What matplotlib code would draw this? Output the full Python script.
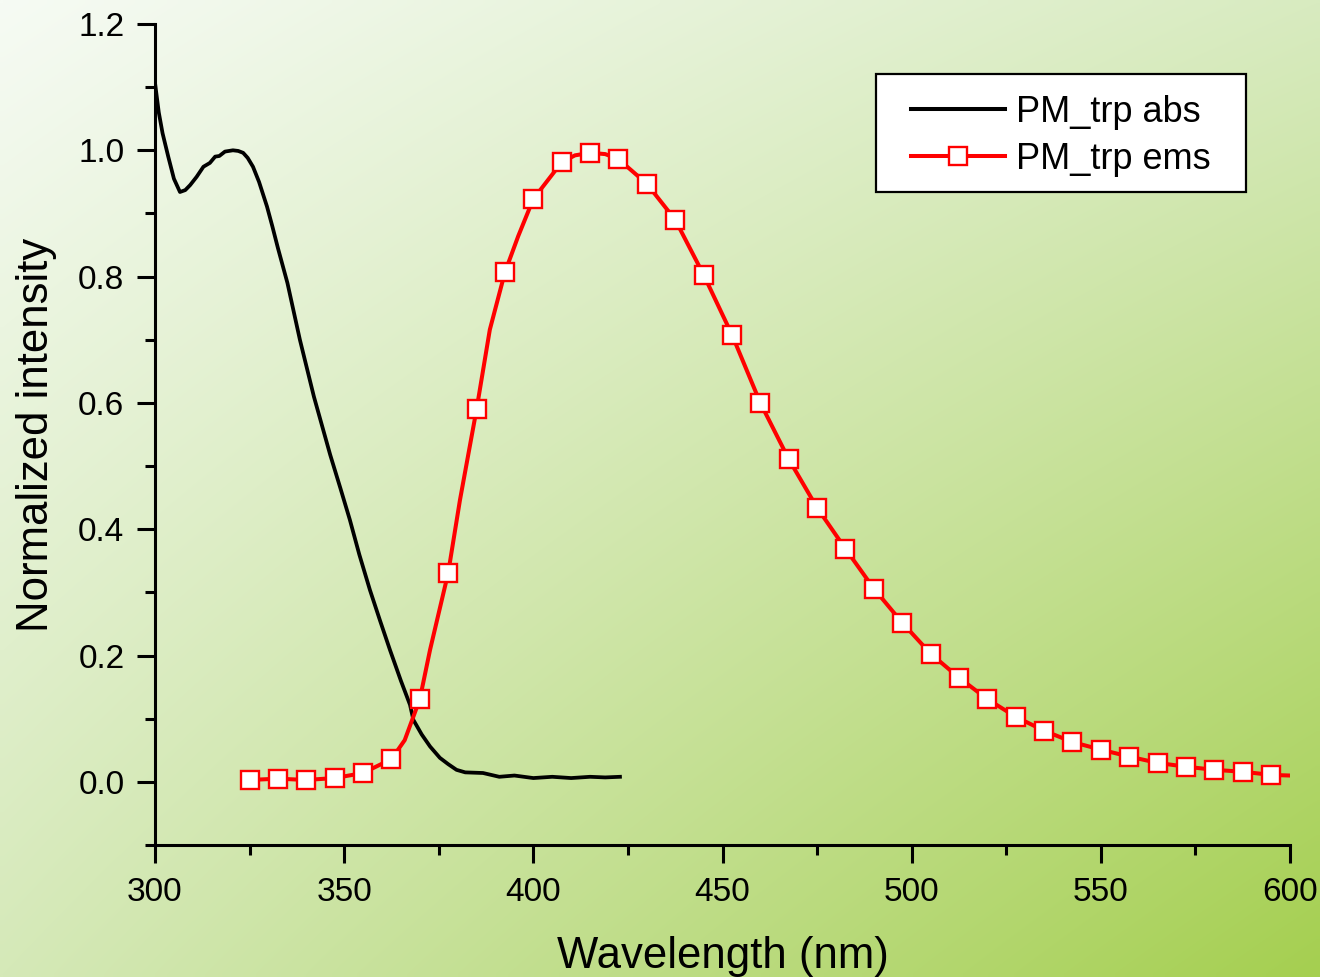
import numpy as np
import matplotlib
matplotlib.use("Agg")
import matplotlib.pyplot as plt
from matplotlib.lines import Line2D
from matplotlib.patches import Rectangle
from matplotlib.ticker import MultipleLocator

plt.rcParams['font.family'] = ['Liberation Sans', 'DejaVu Sans']

# ---- data ----
abs_wl = [300, 301, 302, 303.5, 305, 306.6, 308, 309.3, 311, 312.8, 314.5, 315.9, 317, 318.5,
          320.6, 322, 323.3, 324.5, 325.9, 327.5, 329.6, 331, 332.5, 335, 338.3, 342, 346.3,
          349, 351.5, 354, 356.8, 359.5, 362.1, 365, 367.4, 368.3, 370.5, 372.7, 375.3, 377.5,
          379.7, 382, 386.7, 391, 395, 400, 405, 410, 415, 419, 422.9]
abs_val = [1.107, 1.060, 1.027, 0.990, 0.955, 0.934, 0.937, 0.945, 0.958, 0.974, 0.980, 0.990,
           0.991, 0.998, 1.000, 0.999, 0.996, 0.988, 0.974, 0.950, 0.911, 0.880, 0.845, 0.790,
           0.700, 0.610, 0.518, 0.465, 0.415, 0.360, 0.304, 0.255, 0.209, 0.160, 0.122, 0.098,
           0.075, 0.056, 0.038, 0.028, 0.019, 0.015, 0.014, 0.008, 0.010, 0.006, 0.008, 0.006,
           0.008, 0.007, 0.008]

ems_mark_wl = [325, 332.5, 340, 347.5, 355, 362.5, 370, 377.5, 385, 392.5, 400, 407.5, 415,
               422.5, 430, 437.5, 445, 452.5, 460, 467.5, 475, 482.5, 490, 497.5, 505, 512.5,
               520, 527.5, 535, 542.5, 550, 557.5, 565, 572.5, 580, 587.5, 595]
ems_mark_val = [0.003, 0.005, 0.003, 0.006, 0.014, 0.036, 0.131, 0.331, 0.590, 0.807, 0.923,
                0.981, 0.996, 0.986, 0.947, 0.890, 0.803, 0.708, 0.600, 0.511, 0.434, 0.369,
                0.306, 0.252, 0.203, 0.165, 0.131, 0.103, 0.081, 0.063, 0.051, 0.040, 0.030,
                0.024, 0.019, 0.016, 0.011]
# extra points on the line between markers
ems_extra_wl = [366, 372.7, 380.6, 388.5, 396, 411, 419, 600]
ems_extra_val = [0.066, 0.209, 0.446, 0.716, 0.864, 0.992, 0.994, 0.010]

xlabel = "Wavelength (nm)"
ylabel = "Normalized intensity"
abs_label = "PM_trp abs"
ems_label = "PM_trp ems"

# ---- figure ----
W, H = 1320, 977
fig = plt.figure(figsize=(W / 100, H / 100), dpi=100)

# background gradient
bg = fig.add_axes([0, 0, 1, 1])
bg.set_axis_off()
tl = np.array([246, 251, 244]) / 255
tr = np.array([216, 235, 192]) / 255
bl = np.array([213, 233, 184]) / 255
br = np.array([165, 207, 80]) / 255
u = np.linspace(0, 1, 200)[None, :, None]
v = np.linspace(0, 1, 150)[:, None, None]
img = (1 - v) * ((1 - u) * tl + u * tr) + v * ((1 - u) * bl + u * br)
bg.imshow(img, aspect='auto', extent=[0, 1, 0, 1], origin='upper', interpolation='bilinear')
bg.set_xlim(0, 1)
bg.set_ylim(0, 1)

ax = fig.add_axes([155 / W, 1 - 845 / H, (1290 - 155) / W, (845 - 24) / H])
ax.patch.set_alpha(0)

ax.plot(abs_wl, abs_val, color='black', lw=2.7, solid_joinstyle='round')

ems_wl = np.array(ems_mark_wl + ems_extra_wl)
ems_val = np.array(ems_mark_val + ems_extra_val)
order = np.argsort(ems_wl)
ax.plot(ems_wl[order], ems_val[order], color='red', lw=2.9, solid_joinstyle='round')
ax.plot(ems_mark_wl, ems_mark_val, ls='none', marker='s', ms=12.5, mfc='white',
        mec='red', mew=1.7)

ax.set_xlim(300, 600)
ax.set_ylim(-0.1, 1.2)
ax.xaxis.set_major_locator(MultipleLocator(50))
ax.xaxis.set_minor_locator(MultipleLocator(25))
ax.set_yticks([0.0, 0.2, 0.4, 0.6, 0.8, 1.0, 1.2])
ax.yaxis.set_minor_locator(MultipleLocator(0.1))
ax.yaxis.set_major_formatter(plt.FuncFormatter(lambda v, p: f"{v:.1f}"))

for s in ['top', 'right']:
    ax.spines[s].set_visible(False)
for s in ['left', 'bottom']:
    ax.spines[s].set_linewidth(2.2)

ax.tick_params(which='major', direction='out', length=13, width=2.2, labelsize=24, pad=9)
ax.tick_params(which='minor', direction='out', length=7, width=2.2)
ax.tick_params(axis='x', which='major', pad=10)

ax.set_xlabel(xlabel, fontsize=31.5, labelpad=20)
ax.set_ylabel(ylabel, fontsize=31.5, labelpad=15)

# legend frame (drawn as its own box) and legend entries
frame = Rectangle((876 / W, 1 - 192 / H), (1246 - 876) / W, (192 - 74) / H,
                  transform=fig.transFigure, facecolor='white', edgecolor='black',
                  lw=1.6, zorder=4)
fig.add_artist(frame)

handles = [Line2D([], [], color='black', lw=2.9),
           Line2D([], [], color='red', lw=2.9, marker='s', ms=12.5, mfc='white', mec='red', mew=1.7)]
leg = fig.legend(handles, [abs_label, ems_label], loc='upper left',
                 bbox_to_anchor=(911 / W, 1 - 95 / H), bbox_transform=fig.transFigure,
                 borderaxespad=0, borderpad=0, fontsize=26, frameon=False,
                 handlelength=2.6, handletextpad=0.3, labelspacing=0.33)
leg.set_zorder(5)

fig.savefig('out.png', dpi=100)
